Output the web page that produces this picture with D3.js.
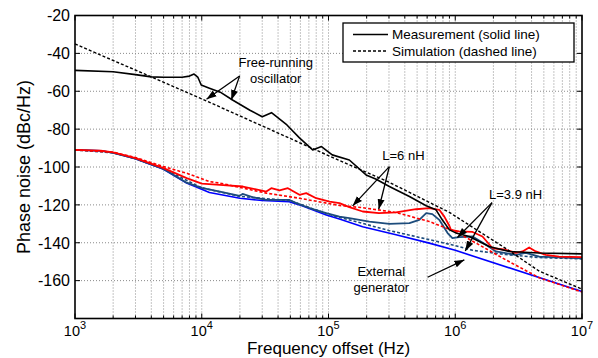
<!DOCTYPE html>
<html>
<head>
<meta charset="utf-8">
<script src="https://cdn.jsdelivr.net/npm/d3@7"></script>
<style>
  body { margin: 0; background: #fff; }
  text { font-family: Arial, "Liberation Sans", sans-serif; fill: #000; }
</style>
</head>
<body>
<div id="chart"></div>
<script>
// [frequency offset (Hz), phase noise (dBc/Hz)]
const freeRunMeas = [[1e3,-49],[2e3,-49.7],[3e3,-51.2],[4e3,-52.4],[5e3,-52.6],[7e3,-52.6],[8e3,-52],[8.7e3,-50.9],[9.3e3,-52.5],[9.9e3,-56.7],[1.15e4,-58.4],[1.4e4,-60.5],[1.75e4,-64.6],[2.4e4,-70],[3e4,-73.5],[3.55e4,-71.3],[4.7e4,-77.8],[5.9e4,-84.6],[7.5e4,-91],[8.8e4,-89.2],[1.07e5,-93.6],[1.46e5,-96.3],[1.98e5,-104.2],[2.38e5,-106.5],[3.02e5,-110.3],[4.35e5,-115.6],[5.9e5,-120.5],[7.05e5,-122.6],[7.9e5,-127.9],[9e5,-133.2],[1.01e6,-134.8],[1.29e6,-136.7],[1.85e6,-142],[2.66e6,-144.6],[4.6e6,-145.4],[1e7,-145.9]];
const freeRunSim = [[1e3,-35],[1e4,-64],[1e5,-94],[3e5,-108],[9e5,-124],[2.5e6,-143],[4.6e6,-155],[1e7,-164.5]];
const l6Meas = [[1e3,-91],[1.6e3,-91.4],[2e3,-92.3],[3e3,-95.3],[5e3,-100.6],[7.6e3,-105.9],[1e4,-108.8],[1.39e4,-109.4],[2.11e4,-110.3],[3.23e4,-113],[3.54e4,-111.2],[4.11e4,-112.4],[4.78e4,-111.2],[5.9e4,-114.7],[6.67e4,-113.8],[8e4,-116.5],[1.02e5,-118.3],[1.22e5,-119.1],[1.46e5,-121.2],[1.86e5,-123.5],[2.5e5,-124.4],[3.41e5,-124],[4.9e5,-122.3],[6.24e5,-121.7],[7.48e5,-122.6],[8.2e5,-126.2],[8.98e5,-131],[9.25e5,-133.2],[1.07e6,-134],[1.37e6,-134.3],[1.64e6,-136.7],[1.97e6,-142.9],[2.51e6,-143.7],[3.01e6,-145.4],[3.39e6,-144.6],[3.83e6,-142.5],[4.32e6,-144.6],[5.18e6,-146.4],[6.59e6,-147.3],[1e7,-147.6]];
const l6Sim = [[1e3,-91],[2e3,-92.2],[3e3,-95],[5e3,-99.8],[7.6e3,-103.3],[1.15e4,-107.7],[1.39e4,-108.5],[3.23e4,-113.8],[5.9e4,-116.5],[1.22e5,-120.3],[1.86e5,-121.5],[3.41e5,-124],[6.24e5,-128.8],[1e6,-134],[2.5e6,-149],[4.6e6,-158.5],[1e7,-166]];
const l39Meas = [[1e3,-91],[1.6e3,-91.5],[2e3,-92.5],[3e3,-95.6],[5e3,-101],[7.6e3,-108.3],[1e4,-111],[1.39e4,-113],[1.99e4,-115.2],[2.1e4,-114.2],[2.54e4,-116],[3.23e4,-117.4],[4.93e4,-117.4],[5.57e4,-119.1],[7.52e4,-122.3],[9.59e4,-124.4],[1.22e5,-126.2],[1.46e5,-127],[2.1e5,-128.8],[3.02e5,-130],[4.35e5,-129.6],[5.2e5,-127.9],[5.9e5,-124.4],[6.6e5,-124.9],[7.48e5,-127.9],[8.7e5,-134.9],[9.5e5,-137.6],[1.07e6,-137],[1.37e6,-136.7],[1.75e6,-141.1],[2.09e6,-144.6],[3.01e6,-146.4],[3.6e6,-145.4],[4.6e6,-147.3],[1e7,-148.3]];
const l39Sim = [[1e3,-91],[2e3,-92.5],[3e3,-95.6],[5e3,-101],[1e4,-111],[2e4,-115.5],[5e4,-117.8],[1e5,-125],[3e5,-133.5],[1e6,-141.5],[1.37e6,-144],[2.5e6,-146.2],[4.6e6,-147.8],[1e7,-148.5]];
const extGen = [[1e3,-91],[1.6e3,-91.4],[2e3,-92.5],[3e3,-95.6],[5e3,-101.2],[7.6e3,-108.5],[1.15e4,-113.5],[2e4,-116.5],[3e4,-117.7],[4.9e4,-118.3],[5.9e4,-120],[9.6e4,-125.3],[1.22e5,-127.5],[1.86e5,-131.5],[3.41e5,-135.8],[6.24e5,-140.2],[1e6,-144],[1e7,-165.7]];

const yTicks = [-160, -140, -120, -100, -80, -60, -40, -20];
const xDecades = [3, 4, 5, 6, 7];

const width = 598, height = 358;
const margin = { top: 15.5, right: 16, bottom: 39.5, left: 75 };

const svg = d3.select("#chart").append("svg")
    .attr("width", width)
    .attr("height", height);

const x = d3.scaleLog().domain([1e3, 1e7]).range([margin.left, width - margin.right]);
const y = d3.scaleLinear().domain([-180, -20]).range([height - margin.bottom, margin.top]);
const x0 = margin.left, x1 = width - margin.right, y0 = height - margin.bottom, y1 = margin.top;

// dotted grid
const xGrid = x.ticks().filter(d => d > 1e3 && d < 1e7);
svg.append("g").selectAll("line").data(xGrid).join("line")
    .attr("x1", d => x(d)).attr("x2", d => x(d))
    .attr("y1", y0).attr("y2", y1)
    .attr("stroke", "#8a8a8a").attr("stroke-width", 1)
    .attr("stroke-dasharray", "1,2");
svg.append("g").selectAll("line").data(yTicks.filter(d => d > -180 && d < -20)).join("line")
    .attr("x1", x0).attr("x2", x1)
    .attr("y1", d => y(d)).attr("y2", d => y(d))
    .attr("stroke", "#8a8a8a").attr("stroke-width", 1)
    .attr("stroke-dasharray", "1,2");

// tick marks (inside, all four sides)
const xAll = x.ticks();
function tickLen(d) { return Math.abs(Math.log10(d) - Math.round(Math.log10(d))) < 1e-9 ? 5 : 3; }
svg.append("g").selectAll("line").data(xAll).join("line")
    .attr("x1", d => x(d)).attr("x2", d => x(d))
    .attr("y1", y0).attr("y2", d => y0 - tickLen(d))
    .attr("stroke", "#000");
svg.append("g").selectAll("line").data(xAll).join("line")
    .attr("x1", d => x(d)).attr("x2", d => x(d))
    .attr("y1", y1).attr("y2", d => y1 + tickLen(d))
    .attr("stroke", "#000");
svg.append("g").selectAll("line").data(yTicks).join("line")
    .attr("x1", x0).attr("x2", x0 + 5)
    .attr("y1", d => y(d)).attr("y2", d => y(d))
    .attr("stroke", "#000");
svg.append("g").selectAll("line").data(yTicks).join("line")
    .attr("x1", x1).attr("x2", x1 - 5)
    .attr("y1", d => y(d)).attr("y2", d => y(d))
    .attr("stroke", "#000");

// curves
const line = d3.line().x(d => x(d[0])).y(d => y(d[1]));
function drawLine(data, color, dashed, w) {
    svg.append("path")
        .datum(data)
        .attr("fill", "none")
        .attr("stroke", color)
        .attr("stroke-width", w || 1.6)
        .attr("stroke-linejoin", "round")
        .attr("stroke-dasharray", dashed ? "3,2" : null)
        .attr("d", line);
}
const darkBlue = "#1d4c7c";
drawLine(extGen, "#0000ff", false, 1.6);
drawLine(l39Meas, darkBlue, false, 1.8);
drawLine(l39Sim, darkBlue, true, 1.6);
drawLine(l6Sim, "#ff0000", true, 1.6);
drawLine(l6Meas, "#ff0000", false, 1.8);
drawLine(freeRunSim, "#000", true, 1.4);
drawLine(freeRunMeas, "#000", false, 1.6);

// frame
svg.append("rect")
    .attr("x", x0).attr("y", y1)
    .attr("width", x1 - x0).attr("height", y0 - y1)
    .attr("fill", "none").attr("stroke", "#000").attr("stroke-width", 1.6);

// tick labels
svg.append("g").selectAll("text").data(yTicks).join("text")
    .attr("x", x0 - 5).attr("y", d => y(d)).attr("dy", "0.36em")
    .attr("text-anchor", "end")
    .style("font-size", "16px")
    .text(d => d);
const xl = svg.append("g").selectAll("text").data(xDecades).join("text")
    .attr("x", d => x(Math.pow(10, d))).attr("y", y0 + 17.3)
    .attr("text-anchor", "middle")
    .style("font-size", "14.5px");
xl.append("tspan").text("10");
xl.append("tspan").attr("dy", -7).style("font-size", "11px").text(d => d);

// axis titles
svg.append("text")
    .attr("x", (x0 + x1) / 2).attr("y", height - 3.8)
    .attr("text-anchor", "middle")
    .style("font-size", "17px")
    .text("Frequency offset (Hz)");
svg.append("text")
    .attr("transform", `translate(30,${(y0 + y1) / 2}) rotate(-90)`)
    .attr("text-anchor", "middle")
    .style("font-size", "18px")
    .text("Phase noise (dBc/Hz)");

// annotations
svg.append("defs").append("marker")
    .attr("id", "arrow")
    .attr("viewBox", "0 0 10 10")
    .attr("refX", 10).attr("refY", 5)
    .attr("markerUnits", "userSpaceOnUse")
    .attr("markerWidth", 10).attr("markerHeight", 10)
    .attr("orient", "auto")
    .append("path").attr("d", "M0,1.5L10,5L0,8.5z").attr("fill", "#000");

function arrow(from, to) {
    svg.append("line")
        .attr("x1", x(from[0])).attr("y1", y(from[1]))
        .attr("x2", x(to[0])).attr("y2", y(to[1]))
        .attr("stroke", "#000").attr("stroke-width", 1.3)
        .attr("marker-end", "url(#arrow)");
}
function label(pos, txt) {
    svg.append("text")
        .attr("x", x(pos[0])).attr("y", y(pos[1]))
        .attr("text-anchor", "middle")
        .style("font-size", "13px")
        .text(txt);
}
label([3.83e4, -47], "Free-running");
label([3.83e4, -55.6], "oscillator");
arrow([1.99e4, -51.9], [1.09e4, -64.2]);
arrow([1.99e4, -51.9], [1.71e4, -64.6]);

label([3.9e5, -96.3], "L=6 nH");
arrow([3.02e5, -99.8], [1.55e5, -120.5]);
arrow([3.02e5, -99.8], [2.49e5, -122.3]);

label([2.99e6, -117], "L=3.9 nH");
arrow([1.95e6, -118.8], [1.04e6, -137.2]);
arrow([1.95e6, -118.8], [1.2e6, -144.3]);

label([2.61e5, -157.5], "External");
label([2.61e5, -165.8], "generator");
arrow([6.05e5, -158.2], [1.18e6, -149]);

// legend
const legend = svg.append("g").attr("transform", "translate(343,23)");
legend.append("rect")
    .attr("width", 231).attr("height", 39)
    .attr("fill", "#fff").attr("stroke", "#000").attr("stroke-width", 1.3);
const legendItems = [["Measurement (solid line)", null], ["Simulation (dashed line)", "3,2"]];
legendItems.forEach((it, i) => {
    legend.append("line")
        .attr("x1", 10).attr("x2", 45)
        .attr("y1", 11.5 + i * 16.5).attr("y2", 11.5 + i * 16.5)
        .attr("stroke", "#000").attr("stroke-width", 1.5)
        .attr("stroke-dasharray", it[1]);
    legend.append("text")
        .attr("x", 49).attr("y", 11.5 + i * 16.5).attr("dy", "0.36em")
        .style("font-size", "13.5px")
        .text(it[0]);
});
</script>
</body>
</html>
